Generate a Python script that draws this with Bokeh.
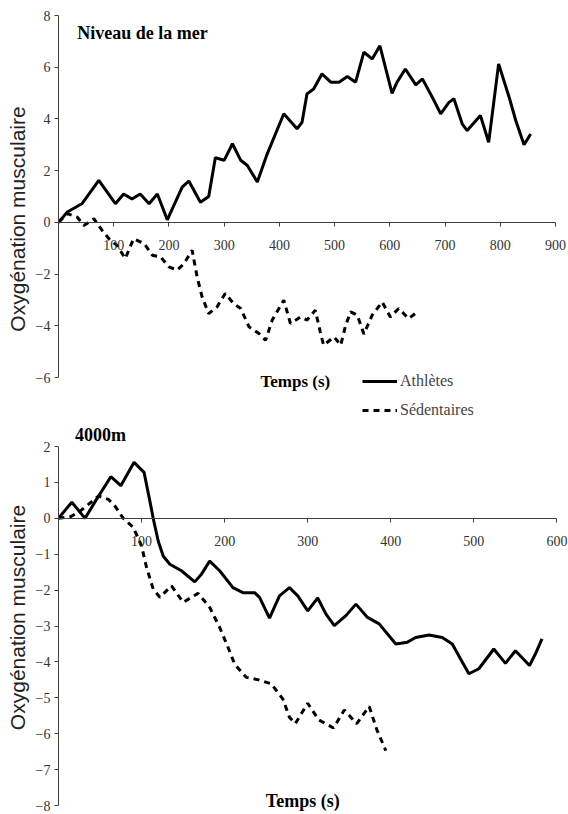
from bokeh.plotting import figure
from bokeh.models import Range1d, FixedTicker, Label, Legend, LegendItem
from bokeh.layouts import column
from bokeh.embed import file_html
from bokeh.resources import INLINE

# ---------------- Data: Niveau de la mer ----------------
sea_ath_t = [0, 16, 43, 73, 103, 118, 133, 148, 164, 179, 197, 224, 236, 257, 272, 284, 300, 315,
             330, 342, 360, 378, 408, 432, 441, 450, 462, 477, 493, 508, 523, 538, 553, 568, 582,
             604, 613, 628, 647, 659, 680, 692, 707, 716, 731, 740, 764, 779, 797, 816, 828, 843, 855]
sea_ath_v = [0, 0.4, 0.73, 1.62, 0.72, 1.1, 0.9, 1.1, 0.72, 1.1, 0.1, 1.36, 1.6, 0.78, 1.0, 2.5, 2.4,
             3.04, 2.4, 2.2, 1.56, 2.65, 4.2, 3.62, 3.87, 4.97, 5.16, 5.74, 5.42, 5.42, 5.64, 5.42,
             6.58, 6.32, 6.83, 4.99, 5.42, 5.93, 5.32, 5.55, 4.71, 4.2, 4.64, 4.78, 3.81, 3.55, 4.13,
             3.1, 6.13, 4.84, 3.94, 3.0, 3.42]
sea_sed_t = [0, 16, 34, 46, 64, 79, 94, 106, 121, 136, 155, 170, 185, 200, 215, 227, 242, 251, 260,
             272, 287, 302, 317, 330, 345, 363, 375, 387, 408, 420, 438, 450, 465, 474, 480, 499,
             511, 520, 529, 541, 553, 568, 586, 601, 616, 634, 650]
sea_sed_v = [0, 0.34, 0.2, -0.12, 0.14, -0.31, -0.7, -0.89, -1.4, -0.63, -0.82, -1.27, -1.34, -1.72,
             -1.85, -1.6, -1.08, -2.11, -2.88, -3.53, -3.27, -2.75, -3.14, -3.33, -4.04, -4.3, -4.56,
             -3.78, -3.01, -3.91, -3.66, -3.78, -3.4, -4.23, -4.75, -4.43, -4.75, -3.98, -3.46,
             -3.59, -4.32, -3.59, -3.08, -3.66, -3.33, -3.72, -3.46]

# ---------------- Data: 4000m ----------------
alt_ath_t = [0, 16, 32, 45, 63, 75, 91, 103, 110, 114, 120, 126, 134, 148, 164, 172, 182, 194, 210,
             222, 236, 242, 254, 266, 278, 288, 300, 312, 322, 332, 346, 358, 372, 386, 406, 420,
             430, 446, 462, 474, 484, 494, 506, 524, 538, 550, 567, 574, 582]
alt_ath_v = [0, 0.45, 0, 0.5, 1.16, 0.91, 1.56, 1.28, 0.48, 0, -0.63, -1.05, -1.28, -1.46, -1.77,
             -1.56, -1.19, -1.46, -1.93, -2.07, -2.07, -2.2, -2.78, -2.16, -1.93, -2.16, -2.58,
             -2.22, -2.67, -2.99, -2.71, -2.39, -2.76, -2.94, -3.5, -3.45, -3.32, -3.25, -3.32,
             -3.5, -3.92, -4.33, -4.19, -3.64, -4.04, -3.69, -4.1, -3.78, -3.36]
alt_sed_t = [0, 15, 26, 36, 48, 60, 68, 78, 90, 100, 106, 114, 122, 136, 150, 168, 182, 194, 204,
             212, 226, 241, 256, 270, 278, 285, 300, 313, 331, 344, 359, 374, 383, 394]
alt_sed_v = [0, 0.05, 0.2, 0.39, 0.62, 0.53, 0.34, 0.0, -0.25, -0.77, -1.37, -1.97, -2.2, -1.88,
             -2.34, -2.09, -2.48, -3.04, -3.59, -4.06, -4.43, -4.5, -4.61, -5.03, -5.54, -5.72,
             -5.15, -5.61, -5.84, -5.34, -5.72, -5.24, -5.88, -6.47]

sea_xticks = [100, 200, 300, 400, 500, 600, 700, 800, 900]
sea_yticks = [-6, -4, -2, 0, 2, 4, 6, 8]
alt_xticks = [100, 200, 300, 400, 500, 600]
alt_yticks = [-8, -7, -6, -5, -4, -3, -2, -1, 0, 1, 2]

labels = ["Athlètes", "Sédentaires"]
ylabel = "Oxygénation musculaire"
xlabel = "Temps (s)"
titles = ["Niveau de la mer", "4000m"]

AXIS_COLOR = "#404040"
TICK_FONT = "Liberation Sans Narrow"


def style(p, xticks, yticks, xb, yb):
    p.xgrid.visible = False
    p.ygrid.visible = False
    p.outline_line_color = None
    p.xaxis.fixed_location = 0
    p.xaxis.bounds = xb
    p.yaxis.bounds = yb
    p.xaxis.ticker = FixedTicker(ticks=xticks)
    p.yaxis.ticker = FixedTicker(ticks=yticks)
    for ax in (p.xaxis, p.yaxis):
        ax.axis_line_color = AXIS_COLOR
        ax.major_tick_line_color = AXIS_COLOR
        ax.minor_tick_line_color = None
        ax.major_tick_in = 0
        ax.major_tick_out = 4
        ax.major_label_text_font = TICK_FONT
        ax.major_label_text_font_size = "14px"
        ax.major_label_text_color = "#333333"
    p.xaxis.major_label_standoff = 14
    p.yaxis.major_label_standoff = 4
    p.yaxis.axis_label = ylabel
    p.yaxis.axis_label_text_font = "Liberation Sans"
    p.yaxis.axis_label_text_font_style = "normal"
    p.yaxis.axis_label_text_font_size = "21px"
    p.yaxis.axis_label_text_color = "#222222"
    p.yaxis.axis_label_standoff = 4


# ---------------- Figure 1 ----------------
p1 = figure(width=568, height=422, output_backend="svg", toolbar_location=None,
            x_range=Range1d(0, 921.7), y_range=Range1d(-7.74, 8),
            min_border_left=58, min_border_right=1, min_border_top=15, min_border_bottom=0)
style(p1, sea_xticks, sea_yticks, (0, 900), (-6, 8))
r1 = p1.line(sea_ath_t, sea_ath_v, line_color="black", line_width=3)
r2 = p1.line(sea_sed_t, sea_sed_v, line_color="black", line_width=3, line_dash="6 5")
p1.add_layout(Label(x=34, y=6.92, text=titles[0], text_font="Liberation Serif",
                    text_font_style="bold", text_font_size="18px", text_color="black"))
p1.add_layout(Label(x=429, y=-6.54, text=xlabel, text_font="Liberation Serif",
                    text_font_style="bold", text_font_size="17px", text_color="black",
                    text_align="center"))
leg = Legend(items=[LegendItem(label=labels[0], renderers=[r1]),
                    LegendItem(label=labels[1], renderers=[r2])],
             location=(304, 3), orientation="vertical",
             label_text_font="Liberation Serif", label_text_font_size="16px",
             glyph_width=35, glyph_height=16, label_height=16, spacing=11,
             padding=0, margin=0, label_standoff=3,
             border_line_alpha=0, background_fill_alpha=0)
p1.add_layout(leg)

# ---------------- Figure 2 ----------------
p2 = figure(width=568, height=392, output_backend="svg", toolbar_location=None,
            x_range=Range1d(0, 612.7), y_range=Range1d(-8.195, 2.67),
            min_border_left=58, min_border_right=1, min_border_top=0, min_border_bottom=2)
style(p2, alt_xticks, alt_yticks, (0, 600), (-8, 2))
p2.line(alt_ath_t, alt_ath_v, line_color="black", line_width=3)
p2.line(alt_sed_t, alt_sed_v, line_color="black", line_width=3, line_dash="6 5")
p2.add_layout(Label(x=20, y=2.05, text=titles[1], text_font="Liberation Serif",
                    text_font_style="bold", text_font_size="18px", text_color="black"))
p2.add_layout(Label(x=294, y=-8.14, text=xlabel, text_font="Liberation Serif",
                    text_font_style="bold", text_font_size="18px", text_color="black",
                    text_align="center", text_baseline="bottom"))

layout = column(p1, p2, spacing=0)
open("out.html", "w").write(file_html(layout, INLINE))
